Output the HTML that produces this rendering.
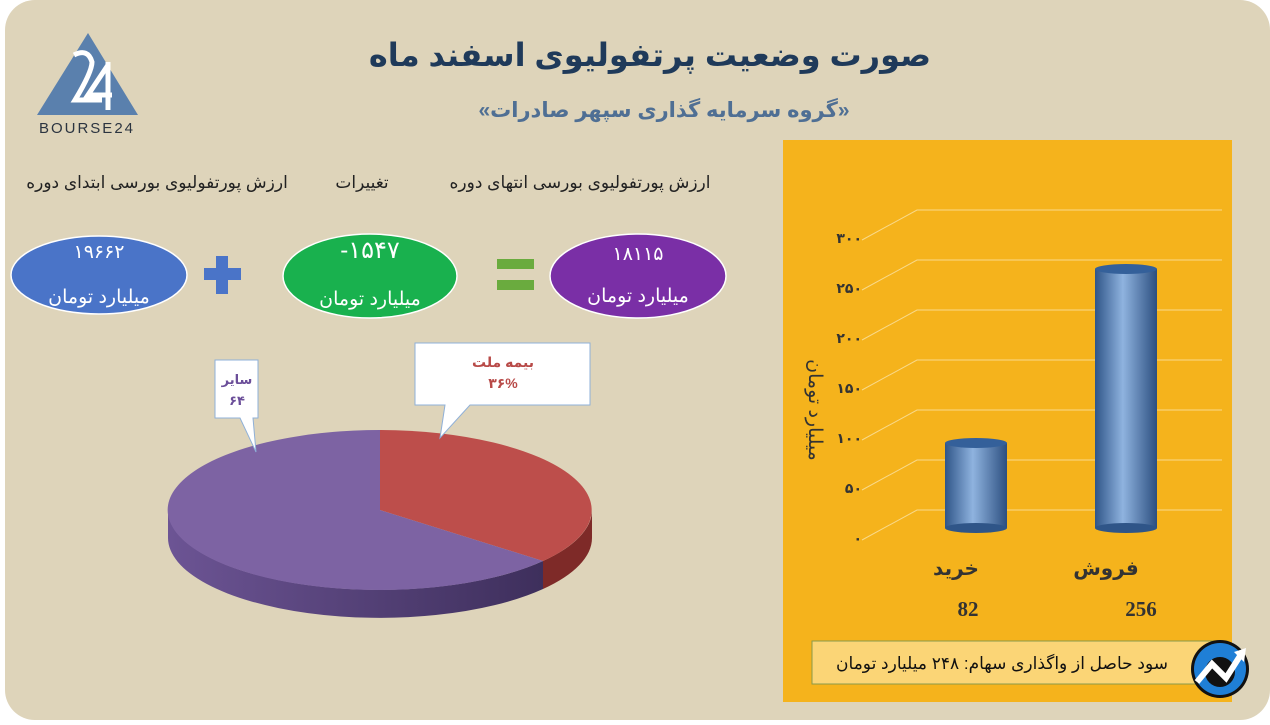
<!DOCTYPE html>
<html><head><meta charset="utf-8"><style>
body{margin:0;width:1270px;height:720px;background:#fff;overflow:hidden;font-family:"Liberation Sans","Noto Sans CJK SC",sans-serif}
</style></head><body>
<svg width="1270" height="720" viewBox="0 0 1270 720" xmlns="http://www.w3.org/2000/svg" font-family="Liberation Sans, DejaVu Sans, sans-serif">
<defs>
<linearGradient id="cyl" x1="0" x2="1" y1="0" y2="0">
<stop offset="0" stop-color="#2f5588"/><stop offset="0.45" stop-color="#8fb3df"/><stop offset="1" stop-color="#2c4f80"/>
</linearGradient>
<linearGradient id="pside" x1="0" x2="1"><stop offset="0" stop-color="#6c5494"/><stop offset="1" stop-color="#3e2f5c"/></linearGradient>
</defs>
<rect x="5" y="0" width="1265" height="720" rx="30" fill="#ded4ba"/>
<!-- logo -->
<polygon points="37,115 138,115 88,33" fill="#5a80ad"/>
<path d="M74,55 Q88,48 92,62 Q92,72 75,100 L102,100" stroke="#fff" stroke-width="5" fill="none"/>
<path d="M108,65 L88,95 L112,95 M108,62 L108,110" stroke="#fff" stroke-width="5" fill="none"/>
<text x="87" y="133" font-size="15" fill="#2b3440" text-anchor="middle" letter-spacing="2">BOURSE24</text>
<!-- titles -->
<text x="650" y="66" font-size="32" font-weight="bold" fill="#1f3a5a" text-anchor="middle" direction="rtl">صورت وضعیت پرتفولیوی اسفند ماه</text>
<text x="664" y="117" font-size="21" font-weight="bold" fill="#4f6f94" text-anchor="middle" direction="rtl">«گروه سرمایه گذاری سپهر صادرات»</text>
<text x="580" y="188" font-size="17" fill="#222" text-anchor="middle" direction="rtl">ارزش پورتفولیوی بورسی انتهای دوره</text>
<text x="362" y="188" font-size="17" fill="#222" text-anchor="middle" direction="rtl">تغییرات</text>
<text x="157" y="188" font-size="17" fill="#222" text-anchor="middle" direction="rtl">ارزش پورتفولیوی بورسی ابتدای دوره</text>
<!-- ovals -->
<ellipse cx="99" cy="275" rx="88" ry="39" fill="#4a74c8" stroke="#fff" stroke-width="1.5"/>
<ellipse cx="370" cy="276" rx="87" ry="42" fill="#19b14e" stroke="#fff" stroke-width="1.5"/>
<ellipse cx="638" cy="276" rx="88" ry="42" fill="#7a2fa6" stroke="#fff" stroke-width="1.5"/>
<g fill="#fff" text-anchor="middle" font-size="19">
<text x="99" y="258">۱۹۶۶۲</text><text x="99" y="303" direction="rtl">میلیارد تومان</text>
<text x="370" y="258" font-size="24">-۱۵۴۷</text><text x="370" y="305" direction="rtl">میلیارد تومان</text>
<text x="638" y="260">۱۸۱۱۵</text><text x="638" y="302" direction="rtl">میلیارد تومان</text>
</g>
<rect x="204" y="268" width="37" height="12" fill="#4a74c8"/><rect x="216" y="256" width="12" height="38" fill="#4a74c8"/>
<rect x="497" y="259" width="37" height="10" fill="#6aab3e"/><rect x="497" y="280" width="37" height="10" fill="#6aab3e"/>
<!-- pie -->
<path d="M592,510 A212,80 0 0 1 543,561 L543,589 A212,80 0 0 0 592,538 Z" fill="#7e2a28"/>
<path d="M543,561 A212,80 0 0 1 168,510 L168,538 A212,80 0 0 0 543,589 Z" fill="url(#pside)"/>
<path d="M380,510 L380,430 A212,80 0 0 1 543,561 Z" fill="#bd4e4b"/>
<path d="M380,510 L543,561 A212,80 0 1 1 380,430 Z" fill="#7d63a3"/>
<!-- callouts -->
<path d="M215,360 H258 V418 H253 L256,452 L240,418 H215 Z" fill="#fff" stroke="#8fb0d8"/>
<text x="237" y="384" font-size="13" font-weight="bold" fill="#6b4e99" text-anchor="middle">سایر</text>
<text x="237" y="405" font-size="13" font-weight="bold" fill="#6b4e99" text-anchor="middle">۶۴</text>
<path d="M415,343 H590 V405 H470 L440,438 L445,405 H415 Z" fill="#fff" stroke="#8fb0d8"/>
<text x="503" y="367" font-size="14" font-weight="bold" fill="#b84a48" text-anchor="middle">بیمه ملت</text>
<text x="503" y="388" font-size="14" font-weight="bold" fill="#b84a48" text-anchor="middle">۳۶%</text>
<!-- orange panel -->
<rect x="783" y="140" width="449" height="562" fill="#f5b31c"/>
<g stroke="#f9d98a" stroke-width="1" fill="none">
<polyline points="862,540 917,510 1222,510"/>
<polyline points="862,490 917,460 1222,460"/>
<polyline points="862,440 917,410 1222,410"/>
<polyline points="862,390 917,360 1222,360"/>
<polyline points="862,340 917,310 1222,310"/>
<polyline points="862,290 917,260 1222,260"/>
<polyline points="862,240 917,210 1222,210"/>
</g>
<g font-size="14" font-weight="bold" fill="#333" text-anchor="end">
<text x="862" y="543">۰</text><text x="862" y="493">۵۰</text><text x="862" y="443">۱۰۰</text><text x="862" y="393">۱۵۰</text><text x="862" y="343">۲۰۰</text><text x="862" y="293">۲۵۰</text><text x="862" y="243">۳۰۰</text>
</g>
<text transform="translate(809,410) rotate(90)" font-size="19" fill="#333" text-anchor="middle" direction="rtl">میلیارد تومان</text>
<!-- bars -->
<rect x="945" y="443" width="62" height="85" fill="url(#cyl)"/>
<ellipse cx="976" cy="528" rx="31" ry="5" fill="#2f5588"/>
<ellipse cx="976" cy="443" rx="31" ry="5" fill="#34609a"/>
<rect x="1095" y="269" width="62" height="259" fill="url(#cyl)"/>
<ellipse cx="1126" cy="528" rx="31" ry="5" fill="#2f5588"/>
<ellipse cx="1126" cy="269" rx="31" ry="5" fill="#34609a"/>
<text x="956" y="575" font-size="20" font-weight="bold" fill="#333" text-anchor="middle">خرید</text>
<text x="1106" y="575" font-size="20" font-weight="bold" fill="#333" text-anchor="middle">فروش</text>
<text x="968" y="616" font-size="21" font-weight="bold" fill="#333" text-anchor="middle" font-family="Liberation Serif, serif">82</text>
<text x="1141" y="616" font-size="21" font-weight="bold" fill="#333" text-anchor="middle" font-family="Liberation Serif, serif">256</text>
<rect x="812" y="641" width="415" height="43" fill="#fbd576" stroke="#8a9a4a"/>
<text x="1002" y="669" font-size="17" fill="#111" text-anchor="middle" direction="rtl">سود حاصل از واگذاری سهام: ۲۴۸ میلیارد تومان</text>
<circle cx="1220" cy="669" r="29" fill="#111"/>
<circle cx="1220" cy="669" r="26" fill="#1f7fd6"/>
<circle cx="1220" cy="672" r="15" fill="#111"/>
<path d="M1197,682 L1212,664 L1226,678 L1240,656" stroke="#fff" stroke-width="6" fill="none"/>
<polygon points="1234,652 1246,648 1244,662" fill="#fff"/>
</svg>
</body></html>
